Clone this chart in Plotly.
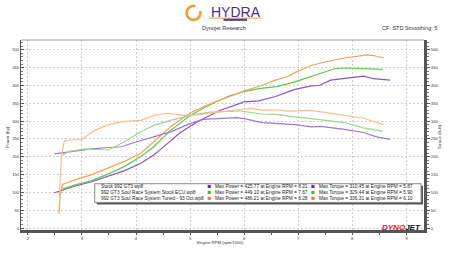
import numpy as np
import plotly.graph_objects as go

# ---------------- data ----------------
stock_power_rpm = [2.49, 2.88, 3.18, 3.49, 3.79, 4.09, 4.33, 4.45, 4.82, 5.18, 5.55, 6.0, 6.27, 6.58, 6.82, 6.94, 7.24, 7.39, 7.6, 7.85, 8.21, 8.39, 8.7]
stock_power_hp = [99, 118, 130, 146, 161, 182, 205, 220, 268, 302, 330, 354, 357, 369, 382, 389, 399, 400, 415, 419, 426, 419, 415]
stock_torque_rpm = [2.49, 2.88, 3.18, 3.49, 3.73, 3.97, 4.21, 4.45, 4.64, 5.0, 5.24, 5.5, 5.87, 6.0, 6.33, 6.64, 6.94, 7.24, 7.42, 7.85, 8.21, 8.45, 8.7]
stock_torque_lbft = [208, 216, 222, 226, 228, 240, 251, 262, 270, 293, 305, 307, 310, 307, 296, 293, 290, 284, 285, 277, 268, 256, 249]

ecu_power_rpm = [2.64, 2.88, 3.18, 3.49, 3.79, 4.09, 4.33, 4.64, 5.0, 5.36, 5.73, 6.0, 6.27, 6.6, 6.94, 7.24, 7.55, 7.67, 7.91, 8.15, 8.39, 8.56]
ecu_power_hp = [109, 121, 133, 152, 173, 201, 228, 274, 316, 345, 371, 383, 391, 397, 410, 425, 440, 447, 449, 447, 445, 445]
ecu_torque_rpm = [2.64, 2.76, 3.06, 3.36, 3.49, 3.79, 4.09, 4.33, 4.64, 5.0, 5.36, 5.73, 5.9, 6.0, 6.33, 6.64, 6.82, 7.24, 7.55, 7.85, 8.21, 8.56]
ecu_torque_lbft = [205, 215, 222, 219, 219, 242, 270, 288, 302, 316, 325, 327, 329, 327, 320, 318, 314, 307, 302, 296, 281, 272]

tuned_power_rpm = [2.575, 2.6, 2.64, 2.88, 3.18, 3.49, 3.79, 4.09, 4.33, 4.45, 4.64, 5.0, 5.36, 5.73, 6.0, 6.27, 6.58, 6.82, 6.94, 7.24, 7.55, 7.85, 8.15, 8.28, 8.39, 8.58]
tuned_power_hp = [40, 95, 122, 136, 150, 168, 187, 210, 242, 260, 284, 323, 348, 369, 385, 397, 415, 426, 436, 456, 468, 477, 484, 486, 484, 477]
tuned_torque_rpm = [2.58, 2.62, 2.67, 2.76, 3.0, 3.24, 3.49, 3.79, 4.09, 4.33, 4.58, 4.88, 5.18, 5.49, 6.0, 6.1, 6.33, 6.64, 6.82, 7.24, 7.55, 7.85, 8.21, 8.39, 8.58]
tuned_torque_lbft = [85, 200, 242, 247, 249, 274, 290, 299, 302, 316, 322, 316, 318, 325, 334, 336, 331, 331, 328, 330, 323, 316, 308, 299, 290]

run_names = ["Stock 992 GT3.wp8",
             "992 GT3 Soul Race System Stock ECU.wp8",
             "992 GT3 Soul Race System Tuned - 93 Oct.wp8"]
max_power = [425.77, 449.10, 486.21]
max_power_rpm = [8.21, 7.67, 8.28]
max_torque = [310.45, 329.44, 336.31]
max_torque_rpm = [5.87, 5.90, 6.10]

x_ticks = [2, 3, 4, 5, 6, 7, 8, 9]
y_ticks = [0, 50, 100, 150, 200, 250, 300, 350, 400, 450, 500]

# ---------------- styling ----------------
power_colors = ["#8a52c6", "#5ec94c", "#f7a05a"]
torque_colors = ["#9f78d0", "#9ad98c", "#fbbd8c"]
swatch_colors = ["#6a2aa0", "#3cbf2c", "#f07a18"]

# plot-area geometry in pixels
L, T, W, H = 18, 40, 410, 193


def px(x):
    return (x - L) / W


def py(y):
    return (T + H - y) / H


fig = go.Figure()

power_sets = [(stock_power_rpm, stock_power_hp), (ecu_power_rpm, ecu_power_hp), (tuned_power_rpm, tuned_power_hp)]
torque_sets = [(stock_torque_rpm, stock_torque_lbft), (ecu_torque_rpm, ecu_torque_lbft), (tuned_torque_rpm, tuned_torque_lbft)]

for i, (xr, yv) in enumerate(torque_sets):
    fig.add_trace(go.Scatter(x=xr, y=yv, mode="lines", yaxis="y2",
                             line=dict(color=torque_colors[i], width=1.2), showlegend=False))
for i, (xr, yv) in enumerate(power_sets):
    fig.add_trace(go.Scatter(x=xr, y=yv, mode="lines", yaxis="y",
                             line=dict(color=power_colors[i], width=1.2), showlegend=False))

yr = [-5.5, 527.6]
tickfont = dict(family="Arial", size=4.2, color="#333")

fig.update_layout(
    width=450, height=253, autosize=False,
    margin=dict(l=L, r=450 - L - W, t=T, b=253 - T - H),
    paper_bgcolor="white", plot_bgcolor="white",
    xaxis=dict(range=[1.873, 9.327], tickvals=x_ticks, ticktext=[str(v) for v in x_ticks],
               showgrid=True, gridcolor="#cfcfcf", griddash="2px,2px", gridwidth=1,
               zeroline=False, showline=True, linecolor="#555", linewidth=3,
               ticks="outside", ticklen=2, tickcolor="#555", tickfont=tickfont,
               minor=dict(dtick=0.5, tick0=0, ticks="outside", ticklen=2, tickcolor="#555", showgrid=False)),
    yaxis=dict(range=yr, tickvals=y_ticks, showgrid=True, gridcolor="#cfcfcf", griddash="2px,2px",
               gridwidth=1, zeroline=False, showline=True, linecolor="#555", linewidth=1,
               ticks="inside", ticklen=3, tickcolor="#555", tickfont=tickfont,
               minor=dict(dtick=10, tick0=0, ticks="inside", ticklen=2, tickcolor="#777", showgrid=False)),
    yaxis2=dict(range=yr, tickvals=y_ticks, overlaying="y", side="right", showgrid=False,
                zeroline=False, showline=True, linecolor="#555", linewidth=3,
                ticks="outside", ticklen=3, tickcolor="#555", tickfont=tickfont,
                minor=dict(dtick=10, tick0=0, ticks="outside", ticklen=2, tickcolor="#777", showgrid=False)),
)

shapes = []
# top frame line
shapes.append(dict(type="line", xref="paper", yref="paper", x0=0, x1=1, y0=1, y1=1,
                   line=dict(color="#999", width=1)))

# legend box with shadow
bx0, bx1, by0, by1 = 93, 425, 186, 205
shapes.append(dict(type="rect", xref="paper", yref="paper", x0=px(bx0 + 2), x1=px(bx1 + 2),
                   y0=py(by1 + 2), y1=py(by0 + 2), fillcolor="#5a5a5a", line=dict(width=0)))
shapes.append(dict(type="rect", xref="paper", yref="paper", x0=px(bx0), x1=px(bx1),
                   y0=py(by1), y1=py(by0), fillcolor="white", line=dict(color="#888", width=1)))

row_y = [188.8, 194.8, 200.8]
annotations = []
for i in range(3):
    annotations.append(dict(xref="paper", yref="paper", x=px(97), y=py(row_y[i]), xanchor="left",
                            yanchor="middle", showarrow=False, text=run_names[i],
                            font=dict(family="Arial", size=4.8, color="#222")))
    annotations.append(dict(xref="paper", yref="paper", x=px(213), y=py(row_y[i]), xanchor="left",
                            yanchor="middle", showarrow=False,
                            text=f"Max Power = {max_power[i]:.2f} at Engine RPM = {max_power_rpm[i]:.2f}",
                            font=dict(family="Arial", size=4.8, color="#222")))
    annotations.append(dict(xref="paper", yref="paper", x=px(319), y=py(row_y[i]), xanchor="left",
                            yanchor="middle", showarrow=False,
                            text=f"Max Torque = {max_torque[i]:.2f} at Engine RPM = {max_torque_rpm[i]:.2f}",
                            font=dict(family="Arial", size=4.8, color="#222")))
    for sx in (209.5, 315):
        shapes.append(dict(type="rect", xref="paper", yref="paper", x0=px(sx - 1.6), x1=px(sx + 1.6),
                           y0=py(row_y[i] + 1.6), y1=py(row_y[i] - 1.6),
                           fillcolor=swatch_colors[i], line=dict(width=0)))

# header logo: orange ring
cx, cy, r = 193.5, 12.5, 7.0
angles = np.deg2rad(np.linspace(75, 375, 60))
pts = [(px(cx + r * np.cos(a)), py(cy - r * np.sin(a))) for a in angles]
path = "M " + " L ".join(f"{a:.5f},{b:.5f}" for a, b in pts)
shapes.append(dict(type="path", xref="paper", yref="paper", path=path,
                   line=dict(color="#f39a2e", width=2.6)))
# HYDRA underline + tagline block
shapes.append(dict(type="line", xref="paper", yref="paper", x0=px(210), x1=px(263), y0=py(17.8), y1=py(17.8),
                   line=dict(color="#f39a2e", width=1)))
shapes.append(dict(type="rect", xref="paper", yref="paper", x0=px(224), x1=px(248), y0=py(20.6), y1=py(18.4),
                   fillcolor="#5a3d9a", line=dict(width=0)))

annotations += [
    dict(xref="paper", yref="paper", x=px(236.5), y=py(12), xanchor="center", yanchor="middle",
         showarrow=False, text="HYDRA", font=dict(family="Arial", size=14, color="#4a2f93")),
    dict(xref="paper", yref="paper", x=px(224.5), y=py(28), xanchor="center", yanchor="middle",
         showarrow=False, text="Dynojet Research", font=dict(family="Arial", size=5.5, color="#333")),
    dict(xref="paper", yref="paper", x=px(443), y=py(28), xanchor="right", yanchor="middle",
         showarrow=False, text="CF: STD Smoothing: 5", font=dict(family="Arial", size=5.5, color="#333")),
    dict(xref="paper", yref="paper", x=px(221), y=py(245.5), xanchor="center", yanchor="middle",
         showarrow=False, text="Engine RPM (rpm/1000)", font=dict(family="Arial", size=4.3, color="#333")),
    dict(xref="paper", yref="paper", x=px(4), y=py(138), xanchor="center", yanchor="middle",
         showarrow=False, text="Power (hp)", textangle=-90, font=dict(family="Arial", size=4.3, color="#333")),
    dict(xref="paper", yref="paper", x=px(444), y=py(138), xanchor="center", yanchor="middle",
         showarrow=False, text="Torque (lb-ft)", textangle=-90, font=dict(family="Arial", size=4.3, color="#333")),
    dict(xref="paper", yref="paper", x=px(427), y=py(230.5), xanchor="right", yanchor="middle",
         showarrow=False, text="<b><i><span style='color:#e0141e'>DYNO</span>JET</i></b>",
         font=dict(family="Arial", size=8, color="#111")),
]

fig.update_layout(shapes=shapes, annotations=annotations)
fig.write_html("out.html")
